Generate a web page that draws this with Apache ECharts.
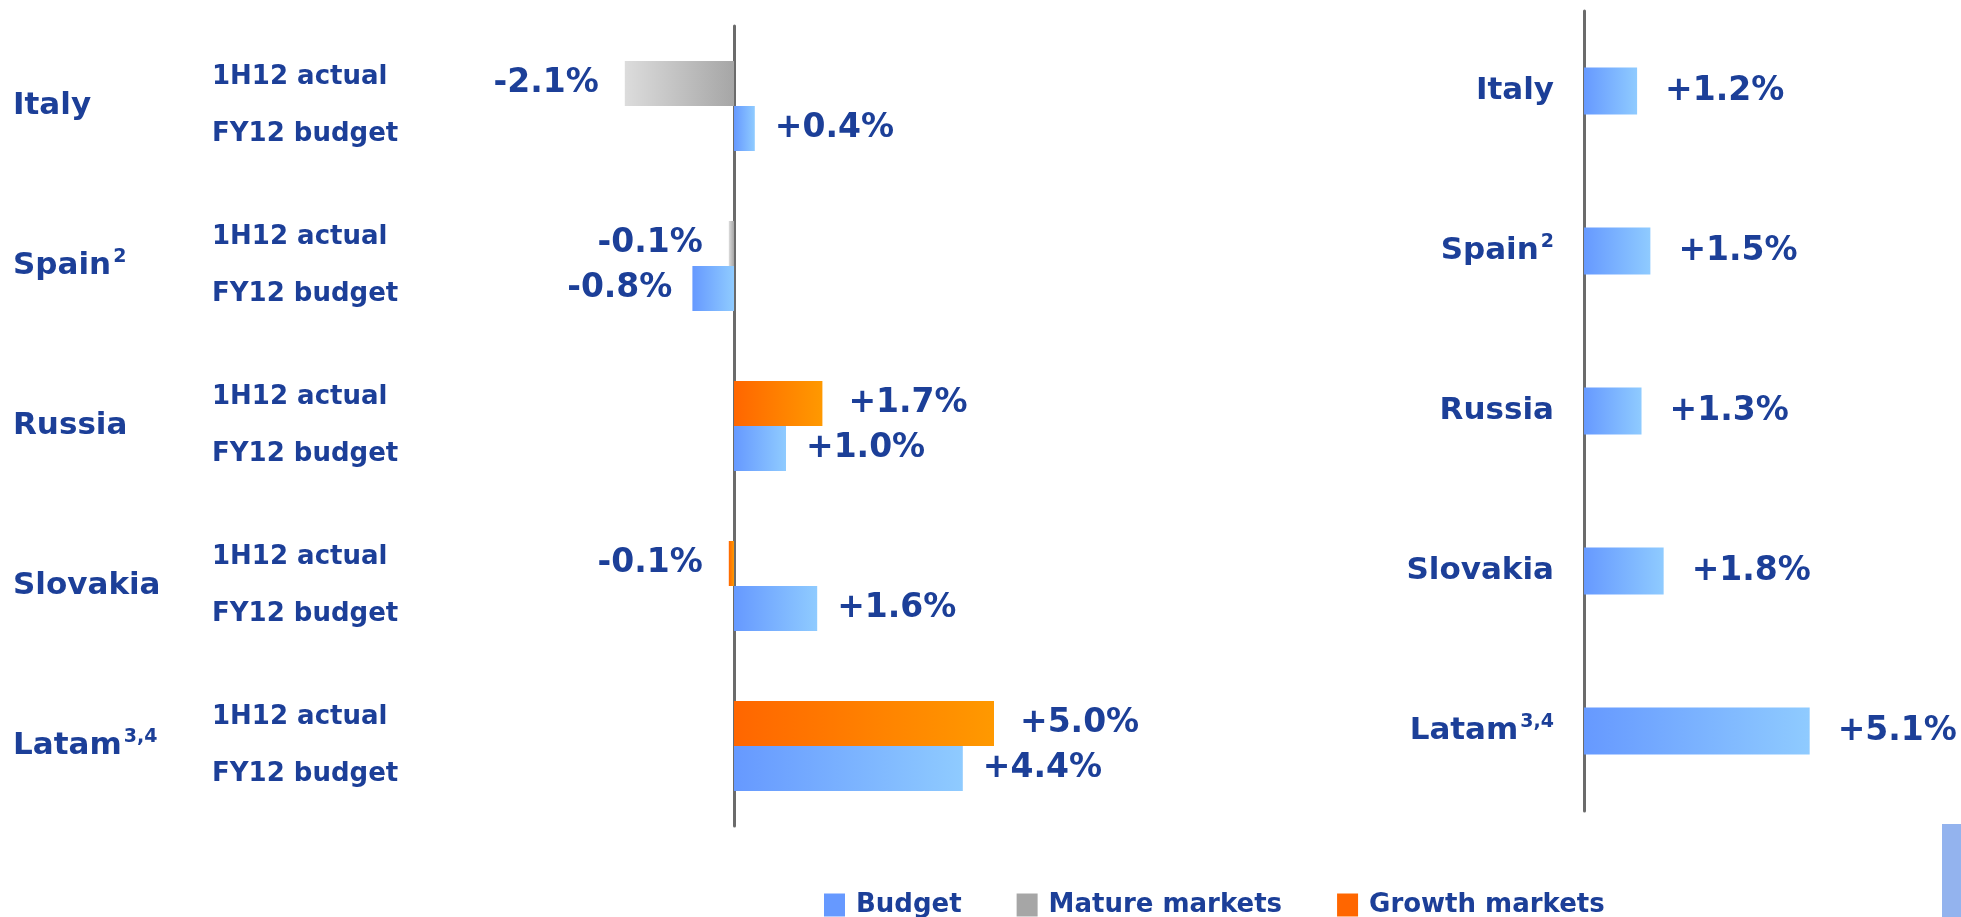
<!DOCTYPE html>
<html>
<head>
<meta charset="utf-8">
<script src="https://cdn.jsdelivr.net/npm/echarts@6/dist/echarts.min.js"></script>
<style>
  html, body { margin: 0; padding: 0; background: #fff; }
  #chart { width: 1961px; height: 917px; }
</style>
</head>
<body>
<div id="chart"></div>
<script>
// data
const countries = ['Italy', 'Spain', 'Russia', 'Slovakia', 'Latam'];
const footnotes = ['', '2', '', '', '3,4'];
const marketType = ['mature', 'mature', 'growth', 'growth', 'growth'];
const actual1H12 = [-2.1, -0.1, 1.7, -0.1, 5.0];
const budgetFY12 = [0.4, -0.8, 1.0, 1.6, 4.4];
const budgetRight = [1.2, 1.5, 1.3, 1.8, 5.1];
const rowLabels = ['1H12 actual', 'FY12 budget'];
const legendNames = ['Budget', 'Mature markets', 'Growth markets'];

const TEXT = '#1c3f98';
const FONT = '"DejaVu Sans", Verdana, sans-serif';

function grad(c0, c1) {
  return new echarts.graphic.LinearGradient(0, 0, 1, 0, [
    { offset: 0, color: c0 },
    { offset: 1, color: c1 }
  ]);
}
const blue = grad('#6699ff', '#8fcbff');
const gray = grad('#dcdcdc', '#a6a6a6');
const orange = grad('#ff6600', '#ff9900');

const fmt = (v) => (v > 0 ? '+' : '') + v.toFixed(1) + '%';

function items(values, keep) {
  return values.map((v, i) => {
    if (keep && !keep(i)) return '-';
    return { value: v, label: { position: v < 0 ? 'left' : 'right' } };
  });
}

const valueLabel = (dist) => ({
  show: true,
  distance: dist,
  formatter: (p) => fmt(p.value),
  fontSize: 33,
  fontWeight: 'bold',
  fontFamily: FONT,
  color: TEXT
});

const countryRich = {
  c: { fontSize: 31, fontWeight: 'bold', fontFamily: FONT, color: TEXT, lineHeight: 36 },
  s: { fontSize: 19, fontWeight: 'bold', fontFamily: FONT, color: TEXT, lineHeight: 36, verticalAlign: 'top', padding: [0, 0, 0, 2] }
};
const countryFmt = (name) => {
  const i = countries.indexOf(name);
  return '{c|' + name + '}' + (footnotes[i] ? '{s|' + footnotes[i] + '}' : '');
};

const zeroLine = { show: true, onZero: true, lineStyle: { color: '#6b6b6b', width: 3 } };

const option = {
  backgroundColor: '#ffffff',
  animation: false,
  grid: [
    { left: 578, top: 26, width: 468, height: 800 },
    { left: 1584, top: 11, width: 354, height: 800 }
  ],
  xAxis: [
    { type: 'value', gridIndex: 0, min: -3, max: 6, show: false },
    { type: 'value', gridIndex: 1, min: 0, max: 8, show: false }
  ],
  yAxis: [
    // zero line of the left panel
    { type: 'category', gridIndex: 0, data: countries, inverse: true,
      axisLine: zeroLine, axisTick: { show: false }, axisLabel: { show: false } },
    // country names, left panel
    { type: 'category', gridIndex: 0, data: countries, inverse: true, position: 'left',
      axisLine: { show: false, onZero: false }, axisTick: { show: false },
      axisLabel: { interval: 0, align: 'left', margin: 565, formatter: countryFmt, rich: countryRich } },
    // row names, left panel
    { type: 'category', gridIndex: 0, data: countries, inverse: true, position: 'left',
      axisLine: { show: false, onZero: false }, axisTick: { show: false },
      axisLabel: { interval: 0, align: 'left', margin: 366, lineHeight: 57, padding: [4, 0, 0, 0],
        fontSize: 26, fontWeight: 'bold', fontFamily: FONT, color: TEXT,
        formatter: () => rowLabels.join('\n') } },
    // right panel
    { type: 'category', gridIndex: 1, data: countries, inverse: true,
      axisLine: zeroLine, axisTick: { show: false },
      axisLabel: { interval: 0, margin: 30, formatter: countryFmt, rich: countryRich } }
  ],
  legend: {
    left: 819, top: 887, icon: 'rect', itemWidth: 21, itemHeight: 23, itemGap: 55,
    selectedMode: false,
    textStyle: { fontSize: 26, fontWeight: 'bold', fontFamily: FONT, color: TEXT, padding: [0, 0, 0, 6] },
    data: [
      { name: legendNames[0], itemStyle: { color: '#6699ff' } },
      { name: legendNames[1], itemStyle: { color: '#a6a6a6' } },
      { name: legendNames[2], itemStyle: { color: '#ff6600' } }
    ]
  },
  graphic: [
    { type: 'rect', right: 0, bottom: 0, shape: { width: 19, height: 93 }, style: { fill: '#93b3ee' } }
  ],
  series: [
    { name: legendNames[1], type: 'bar', xAxisIndex: 0, yAxisIndex: 0, stack: 'actual',
      barWidth: 45, barGap: '0%', itemStyle: { color: gray }, label: valueLabel(26),
      data: items(actual1H12, (i) => marketType[i] === 'mature') },
    { name: legendNames[2], type: 'bar', xAxisIndex: 0, yAxisIndex: 0, stack: 'actual',
      barWidth: 45, barGap: '0%', itemStyle: { color: orange }, label: valueLabel(26),
      data: items(actual1H12, (i) => marketType[i] === 'growth') },
    { name: legendNames[0], type: 'bar', xAxisIndex: 0, yAxisIndex: 0,
      barWidth: 45, barGap: '0%', itemStyle: { color: blue }, label: valueLabel(20),
      data: items(budgetFY12) },
    { name: legendNames[0], type: 'bar', xAxisIndex: 1, yAxisIndex: 3,
      barWidth: 47, itemStyle: { color: blue }, label: valueLabel(28),
      data: items(budgetRight) }
  ]
};

const chart = echarts.init(document.getElementById('chart'), null, { renderer: 'canvas' });
chart.setOption(option);
</script>
</body>
</html>
